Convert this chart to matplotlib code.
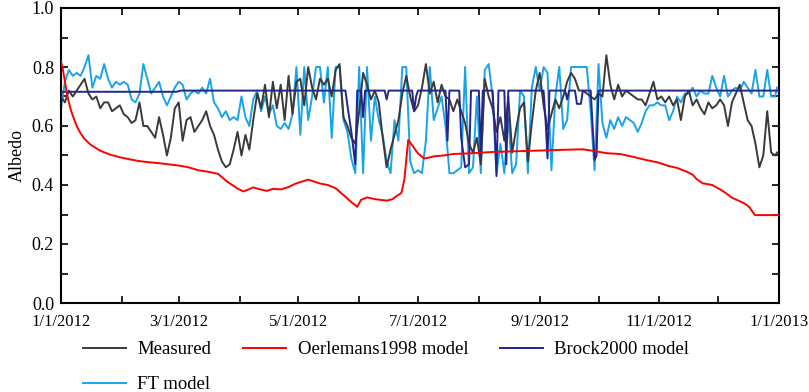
import numpy as np
import pandas as pd
import matplotlib
matplotlib.use("Agg")
import matplotlib.pyplot as plt
import matplotlib.dates as mdates
from matplotlib.ticker import MultipleLocator, FormatStrFormatter

plt.rcParams['font.family'] = ['Liberation Serif', 'DejaVu Serif']

start = pd.Timestamp('2012-01-01')

# day of year (0 = 1/1/2012), every second day plus the last one
day = np.append(np.arange(0, 366, 2), 365)

measured = [
    0.70, 0.68, 0.72, 0.70, 0.72, 0.74, 0.76, 0.71, 0.69, 0.70,
    0.66, 0.68, 0.68, 0.65, 0.66, 0.67, 0.64, 0.63, 0.61, 0.62,
    0.68, 0.60, 0.60, 0.58, 0.56, 0.63, 0.57, 0.50, 0.56, 0.66,
    0.68,
    0.55, 0.62, 0.63, 0.58, 0.60, 0.62, 0.65, 0.60, 0.57, 0.52,
    0.48, 0.46, 0.47, 0.52, 0.58, 0.50, 0.57, 0.52, 0.62, 0.71,
    0.66, 0.74, 0.63, 0.75, 0.66, 0.74, 0.62, 0.77, 0.64, 0.75,
    0.76,
    0.67, 0.80, 0.73, 0.69, 0.76, 0.74, 0.76, 0.70, 0.79, 0.81,
    0.63, 0.60, 0.56, 0.54, 0.65, 0.78, 0.74, 0.69, 0.72, 0.68,
    0.56, 0.46, 0.52, 0.57, 0.62, 0.71, 0.77, 0.70, 0.65, 0.67,
    0.73,
    0.81, 0.71, 0.75, 0.68, 0.74, 0.70, 0.69, 0.65, 0.69, 0.65,
    0.61, 0.54, 0.51, 0.56, 0.47, 0.76, 0.70, 0.66, 0.58, 0.63,
    0.55, 0.70, 0.51, 0.59, 0.66, 0.68, 0.48, 0.61, 0.72, 0.78,
    0.67, 0.59, 0.64, 0.69, 0.66, 0.70, 0.75, 0.78, 0.76, 0.72,
    0.72, 0.71, 0.70, 0.69, 0.71, 0.70, 0.84, 0.74, 0.69, 0.74,
    0.70, 0.72, 0.71, 0.70, 0.69, 0.69, 0.67, 0.71, 0.75, 0.69,
    0.70,
    0.68, 0.70, 0.67, 0.69, 0.62, 0.70, 0.72, 0.67, 0.69, 0.66,
    0.64, 0.68, 0.66, 0.67, 0.69, 0.67, 0.60, 0.68, 0.71, 0.74,
    0.68, 0.62, 0.60, 0.54, 0.46, 0.50, 0.65, 0.51, 0.50, 0.51,
]

ft_model = [
    0.66, 0.75, 0.79, 0.77, 0.78, 0.77, 0.80, 0.84, 0.73, 0.77,
    0.76, 0.81, 0.76, 0.73, 0.75, 0.74, 0.75, 0.74, 0.69, 0.68,
    0.71, 0.81, 0.76, 0.71, 0.73, 0.75, 0.70, 0.67, 0.70, 0.73,
    0.75,
    0.74, 0.69, 0.71, 0.72, 0.71, 0.73, 0.71, 0.76, 0.68, 0.66,
    0.63, 0.65, 0.62, 0.63, 0.62, 0.70, 0.63, 0.60, 0.69, 0.72,
    0.65, 0.70, 0.64, 0.67, 0.60, 0.59, 0.61, 0.59, 0.64, 0.80,
    0.57,
    0.80, 0.62, 0.70, 0.80, 0.80, 0.68, 0.80, 0.56, 0.80, 0.80,
    0.62, 0.58, 0.49, 0.44, 0.80, 0.44, 0.80, 0.55, 0.70, 0.62,
    0.57, 0.48, 0.44, 0.62, 0.55, 0.80, 0.80, 0.48, 0.44, 0.45,
    0.44,
    0.55, 0.80, 0.62, 0.66, 0.70, 0.60, 0.44, 0.44, 0.45, 0.46,
    0.80, 0.44, 0.46, 0.70, 0.44, 0.79, 0.81, 0.70, 0.44, 0.54,
    0.44, 0.63, 0.44, 0.47, 0.72, 0.70, 0.44, 0.73, 0.80, 0.72,
    0.80, 0.78, 0.45, 0.70, 0.80, 0.59, 0.62, 0.80, 0.80, 0.80,
    0.80, 0.80, 0.65, 0.45, 0.81, 0.61, 0.56, 0.62, 0.59, 0.63,
    0.60, 0.63, 0.62, 0.61, 0.58, 0.61, 0.65, 0.67, 0.67, 0.68,
    0.67,
    0.67, 0.62, 0.65, 0.70, 0.68, 0.71, 0.71, 0.73, 0.70, 0.72,
    0.71, 0.71, 0.77, 0.73, 0.70, 0.77, 0.70, 0.72, 0.73, 0.72,
    0.75, 0.73, 0.71, 0.79, 0.70, 0.70, 0.79, 0.70, 0.70, 0.73,
]

oerl_day = [0, 1, 2, 3, 4, 5, 6, 8, 10, 12, 15, 20, 25, 30, 35, 40, 45, 50,
            55, 60, 65, 70, 75, 80, 85, 90, 93, 96, 98, 101, 105, 108, 112,
            116, 119, 122, 126, 128, 132, 136, 140, 145, 148, 150, 151, 153,
            156, 160, 166, 169, 171, 173.5, 175, 177, 179.5, 182, 185, 187,
            190, 195, 200, 210, 220, 230, 240, 250, 260, 266, 272, 278, 285,
            292, 298, 304, 310, 314, 319, 322, 324, 327, 332, 336, 339, 342,
            346, 349, 351, 353.7, 366]
oerlemans = [0.82, 0.79, 0.75, 0.71, 0.68, 0.655, 0.635, 0.60, 0.575, 0.556,
             0.537, 0.516, 0.503, 0.494, 0.487, 0.481, 0.477, 0.474, 0.470,
             0.466, 0.460, 0.450, 0.445, 0.438, 0.410, 0.388, 0.378, 0.386,
             0.392, 0.386, 0.380, 0.387, 0.385, 0.393, 0.403, 0.410, 0.418,
             0.414, 0.405, 0.400, 0.389, 0.360, 0.342, 0.332, 0.326, 0.350,
             0.358, 0.352, 0.347, 0.352, 0.362, 0.373, 0.417, 0.553, 0.530,
             0.507, 0.490, 0.492, 0.497, 0.500, 0.505, 0.508, 0.512, 0.514,
             0.516, 0.518, 0.520, 0.521, 0.515, 0.508, 0.505, 0.495, 0.485,
             0.477, 0.464, 0.458, 0.445, 0.435, 0.420, 0.406, 0.400, 0.385,
             0.372, 0.357, 0.345, 0.335, 0.324, 0.298, 0.298]

brock_day = [0, 59, 61, 145, 146, 148, 150, 151, 153, 154, 155, 165, 166, 167,
             179, 180, 181, 182, 196, 197, 198, 203, 204, 206, 208, 209, 213,
             214, 215, 220, 221, 222, 223, 226, 227, 228, 246, 247, 248, 249,
             257, 258, 259, 262, 263, 265, 266, 270, 271, 272, 273, 274, 366]
brock = [0.716, 0.716, 0.72, 0.72, 0.67, 0.58, 0.47, 0.72, 0.72, 0.63, 0.72,
         0.72, 0.69, 0.72, 0.72, 0.65, 0.70, 0.72, 0.72, 0.55, 0.72, 0.72,
         0.56, 0.46, 0.47, 0.72, 0.72, 0.50, 0.72, 0.72, 0.60, 0.43, 0.72,
         0.72, 0.47, 0.72, 0.72, 0.62, 0.49, 0.72, 0.72, 0.69, 0.72, 0.72,
         0.675, 0.675, 0.72, 0.72, 0.60, 0.485, 0.50, 0.72, 0.72]


def to_date(d):
    return start + pd.to_timedelta(np.asarray(d, dtype=float), unit='D')


fig = plt.figure(figsize=(8.09, 3.92), dpi=100)
ax = fig.add_axes([61 / 809, 1 - 303 / 392, 718 / 809, 295 / 392])

l_ft, = ax.plot(to_date(day), ft_model, color='#19a3e8', lw=1.4, zorder=2)
l_meas, = ax.plot(to_date(day), measured, color='#3a3a3a', lw=1.4, zorder=3)
l_brock, = ax.plot(to_date(brock_day), brock, color='#24248c', lw=1.4, zorder=4)
l_oerl, = ax.plot(to_date(oerl_day), oerlemans, color='#ff0000', lw=1.4, zorder=5)

ax.set_xlim(pd.Timestamp('2012-01-01'), pd.Timestamp('2013-01-01'))
ax.set_ylim(0, 1.0)

ax.xaxis.set_major_locator(mdates.MonthLocator(bymonth=[1, 3, 5, 7, 9, 11]))
ax.xaxis.set_minor_locator(mdates.MonthLocator(bymonth=[2, 4, 6, 8, 10, 12]))


def date_fmt(x, pos=None):
    d = mdates.num2date(x)
    return f"{d.month}/{d.day}/{d.year}"


ax.xaxis.set_major_formatter(date_fmt)
ax.yaxis.set_major_locator(MultipleLocator(0.2))
ax.yaxis.set_minor_locator(MultipleLocator(0.1))
ax.yaxis.set_major_formatter(FormatStrFormatter('%.1f'))

ax.tick_params(which='both', direction='in', top=True, right=True,
               length=5, width=1.2)
ax.tick_params(axis='x', labelsize=12, pad=8)
ax.tick_params(axis='y', labelsize=13, pad=5)
for s in ax.spines.values():
    s.set_linewidth(1.5)

ax.set_ylabel('Albedo', fontsize=13, labelpad=4)

fig.legend([l_meas, l_ft, l_oerl, l_brock],
           ['Measured', 'FT model', 'Oerlemans1998 model', 'Brock2000 model'],
           loc='upper left', bbox_to_anchor=(83 / 809, 1 - 341 / 392),
           ncol=3, frameon=False, fontsize=13.5, handlelength=2.3,
           handletextpad=0.6, columnspacing=1.7, labelspacing=0.95,
           borderpad=0, borderaxespad=0)

fig.savefig('out.png', dpi=100)
